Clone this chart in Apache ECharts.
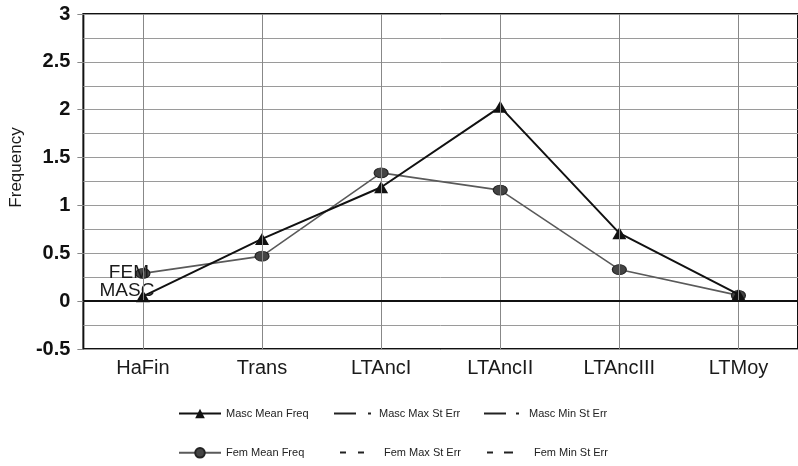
<!DOCTYPE html>
<html>
<head>
<meta charset="utf-8">
<script src="https://cdn.jsdelivr.net/npm/echarts@6/dist/echarts.min.js"></script>
<style>
  html, body { margin: 0; padding: 0; background: #fff; }
  #chart { width: 798px; height: 466px; }
</style>
</head>
<body>
<div id="chart"></div>
<script>
// Mean frequency per region, male vs female, with standard error series
const categories = ['HaFin', 'Trans', 'LTAncI', 'LTAncII', 'LTAncIII', 'LTMoy'];
const mascMean = [0.05, 0.65, 1.19, 2.03, 0.71, 0.07];
const femMean = [0.29, 0.47, 1.34, 1.16, 0.33, 0.06];
const mascMaxErr = [];
const mascMinErr = [];
const femMaxErr = [];
const femMinErr = [];
const yTicks = { min: -0.5, max: 3, step: 0.5 };

const FONT = 'Liberation Sans, Arial, sans-serif';

// first point of each mean series carries its group tag
function withTag(values, tag, offset) {
  return values.map((v, i) => i === 0 ? {
    value: v,
    label: {
      show: true, position: 'inside', offset: offset, formatter: tag,
      fontFamily: FONT, fontSize: 19, color: '#1a1a1a'
    }
  } : v);
}

const legendText = { fontFamily: FONT, fontSize: 11, color: '#222' };
function legendAt(name, left, top, width, lineOnly) {
  const lg = {
    data: [name], left: left, top: top, itemWidth: width, itemHeight: 12,
    itemGap: 0, padding: 0, textStyle: legendText, selectedMode: false
  };
  if (lineOnly) lg.itemStyle = { opacity: 0 };
  return lg;
}

const chart = echarts.init(document.getElementById('chart'));
chart.setOption({
  animation: false,
  backgroundColor: '#fff',
  grid: {
    left: 83, top: 14, width: 718, height: 335,
    show: true, borderColor: '#111', borderWidth: 2, backgroundColor: 'transparent'
  },
  legend: [
    legendAt('Masc Mean Freq', 178, 408, 42, false),
    legendAt('Masc Max St Err', 333, 408, 40, true),
    legendAt('Masc Min St Err', 483, 408, 40, true),
    legendAt('Fem Mean Freq', 178, 447, 42, false),
    legendAt('Fem Max St Err', 339, 447, 39, true),
    legendAt('Fem Min St Err', 486, 447, 42, true)
  ],
  xAxis: {
    type: 'category',
    data: categories,
    boundaryGap: true,
    axisLine: { show: false },
    axisTick: { show: true, alignWithLabel: true, length: 7, lineStyle: { color: '#777' } },
    axisLabel: { fontFamily: FONT, fontSize: 20, color: '#1a1a1a', margin: 9 },
    splitLine: { show: false }
  },
  yAxis: {
    type: 'value',
    min: yTicks.min, max: yTicks.max, interval: yTicks.step,
    name: 'Frequency',
    nameLocation: 'middle',
    nameGap: 58,
    nameRotate: 90,
    nameTextStyle: { fontFamily: FONT, fontSize: 17, color: '#1a1a1a', padding: [0, 0, 0, 28] },
    axisLine: { show: false },
    axisTick: { show: true, length: 6, lineStyle: { color: '#888' } },
    axisLabel: { fontFamily: FONT, fontSize: 20, fontWeight: 'bold', color: '#111', margin: 13 },
    splitLine: { show: true, lineStyle: { color: '#9a9a9a', width: 1 } },
    minorTick: { show: false, splitNumber: 2 },
    minorSplitLine: { show: true, lineStyle: { color: '#9a9a9a', width: 1 } }
  },
  series: [
    {
      name: 'Fem Mean Freq',
      type: 'line',
      data: withTag(femMean, 'FEM', [-14, -1]),
      symbol: 'circle',
      symbolSize: [14, 10],
      itemStyle: { color: '#444', borderColor: '#222', borderWidth: 1 },
      lineStyle: { color: '#5a5a5a', width: 1.6 },
      z: 3,
      markLine: {
        silent: true, symbol: 'none', label: { show: false },
        lineStyle: { color: '#888', width: 1, type: 'solid' },
        data: categories.map(c => ({ xAxis: c }))
      }
    },
    {
      name: 'Masc Mean Freq',
      type: 'line',
      data: withTag(mascMean, 'MASC', [-16, -6]),
      symbol: 'triangle',
      symbolSize: [14, 12],
      itemStyle: { color: '#111' },
      lineStyle: { color: '#111', width: 2 },
      z: 4,
      markLine: {
        silent: true, symbol: 'none', label: { show: false },
        lineStyle: { color: '#111', width: 2, type: 'solid' },
        data: [{ yAxis: 0 }]
      }
    },
    {
      name: 'Masc Max St Err', type: 'line', data: mascMaxErr, symbol: 'none',
      lineStyle: { color: '#222', width: 1.5, type: [22, 12, 3, 3] }, itemStyle: { color: '#222' }
    },
    {
      name: 'Masc Min St Err', type: 'line', data: mascMinErr, symbol: 'none',
      lineStyle: { color: '#222', width: 1.5, type: [22, 10, 3, 5] }, itemStyle: { color: '#222' }
    },
    {
      name: 'Fem Max St Err', type: 'line', data: femMaxErr, symbol: 'none',
      lineStyle: { color: '#222', width: 2.5, type: [6, 12, 6, 100] }, itemStyle: { color: '#222' }
    },
    {
      name: 'Fem Min St Err', type: 'line', data: femMinErr, symbol: 'none',
      lineStyle: { color: '#222', width: 2.5, type: [6, 11, 9, 100] }, itemStyle: { color: '#222' }
    }
  ]
});
</script>
</body>
</html>
